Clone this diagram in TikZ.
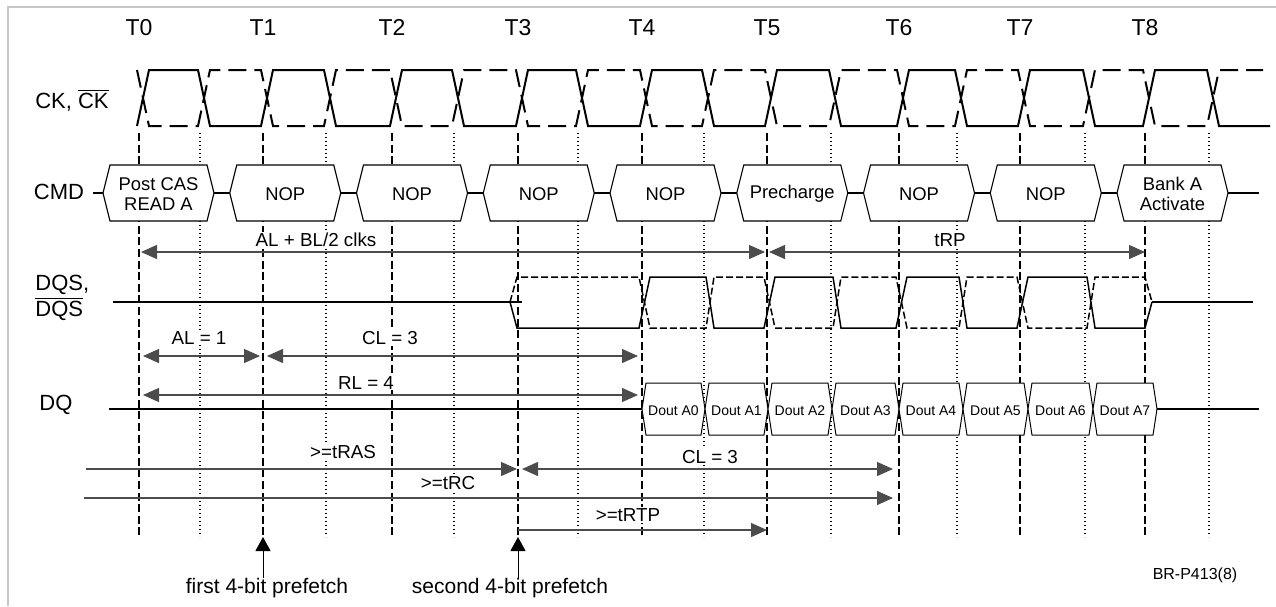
\documentclass[tikz,border=0pt]{standalone}
\usepackage{fontspec}
\setmainfont{Liberation Sans}
\usetikzlibrary{arrows.meta}

\begin{document}
\begin{tikzpicture}[x=0.5pt, y=-0.5pt,
    clk/.style={line width=1pt},
    clkbar/.style={clk, dash pattern=on 9pt off 4pt},
    tline/.style={line width=0.65pt, dash pattern=on 4pt off 1.8pt},
    hline/.style={line width=0.65pt, dash pattern=on 0.6pt off 1.4pt},
    strobe/.style={line width=0.75pt},
    strobebar/.style={strobe, dash pattern=on 3.5pt off 1.5pt},
    cmdbox/.style={draw, fill=white, line width=0.55pt},
    cmdtext/.style={font=\fontsize{9.2}{10}\selectfont, align=center},
    doutbox/.style={draw, fill=white, line width=0.5pt},
    douttext/.style={font=\fontsize{7}{8}\selectfont},
    dim/.style={draw=black!70, line width=0.65pt, >={Triangle[length=8pt,width=7pt]}},
    lbl/.style={fill=white, inner sep=0.5pt, font=\fontsize{9.4}{10}\selectfont},
    sig/.style={font=\fontsize{11}{13}\selectfont}]

\useasboundingbox (0,0) rectangle (1276,606);
\draw[black!22, line width=0.75pt] (8,606) -- (8,7) -- (1276,7);

% clock edges and half-cycle marks
\foreach \i/\x in {0/139,1/263,2/392,3/518,4/642,5/767,6/899,7/1020,8/1145}{
  \node[font=\fontsize{11.5}{13}\selectfont, anchor=base] (T\i) at (\x,35) {T\i};
  \draw[tline] (\x,133) -- (\x,537);
}
\foreach \x in {200,326,454,578,704,831,957,1085,1209}
  \draw[hline] (\x,133) -- (\x,537);

% CK and CK#
\draw[clk] (137,126) \foreach \a/\b in {139/200,263/326,392/454,518/578,642/704,767/831,899/957,1020/1085,1145/1209}{
    -- ({\a-2},126) -- ({\a+10},70) -- ({\b-2},70) -- ({\b+10},126)} -- (1270,126);
\draw[clkbar] (137,70) \foreach \a/\b in {139/200,263/326,392/454,518/578,642/704,767/831,899/957,1020/1085,1145/1209}{
    -- ({\a-2},70) -- ({\a+10},126) -- ({\b-2},126) -- ({\b+10},70)} -- (1263,70);

% signal names
\node[sig] (cklbl) at (72,100) {CK, $\overline{\mbox{CK}}$};
\node[sig] (cmdlbl) at (59,192) {CMD};
\node[sig, anchor=west, align=left, inner sep=0pt] (dqslbl) at (35,298) {DQS,\\$\overline{\mbox{DQS}}$};
\node[sig] (dqlbl) at (56,405) {DQ};

% buses
\draw[line width=0.55pt] (93,193) -- (1259,193);
\draw[line width=0.55pt] (109,409) -- (1259,409);
\draw[line width=0.6pt] (113,302) -- (522,302);
\draw[line width=0.6pt] (1152,302) -- (1253,302);

% commands
\foreach \i/\txt in {0/{Post CAS\\READ A},1/NOP,2/NOP,3/NOP,4/NOP,5/Precharge,6/NOP,7/NOP,8/{Bank A\\Activate}}{
  \pgfmathsetmacro\l{103+126.75*\i}
  \filldraw[cmdbox] (\l,193) -- ++(7,-28) -- ++(97,0) -- ++(7,28) -- ++(-7,28) -- ++(-97,0) -- cycle;
  \node[cmdtext] (cmd\i) at ({\l+55.5},194) {\txt};
}

% DQS and DQS#
\draw[strobe] (510,302) -- (517,328) \foreach \a/\b in {642/704,767/831,899/957,1020/1085}{
    -- ({\a-3},328) -- ({\a+8},277) -- ({\b+2},277) -- ({\b+10},328)} -- (1145,328) -- (1152,302);
\draw[strobebar] (510,302) -- (517,277) \foreach \a/\b in {642/704,767/831,899/957,1020/1085}{
    -- ({\a-3},277) -- ({\a+8},328) -- ({\b+2},328) -- ({\b+10},277)} -- (1145,277) -- (1152,302);

% data out
\foreach \a/\b/\k in {642/705/0,705/768/1,768/832/2,832/899/3,899/963/4,963/1028/5,1028/1093/6,1093/1157/7}{
  \filldraw[doutbox] (\a,409) -- ({\a+4},383) -- ({\b-4},383) -- (\b,409) -- ({\b-4},435) -- ({\a+4},435) -- cycle;
  \node[douttext] (dout\k) at ({(\a+\b)/2},411) {Dout A\k};
}

% timing
\draw[dim,<->,shorten <=1pt,shorten >=1pt] (T0 |- 0,252) -- (T5 |- 0,252);
\node[lbl] (albl) at (316,240) {AL + BL/2 clks};
\draw[dim,<->,shorten <=1pt] (T5 |- 0,252) -- (T8 |- 0,252);
\node[lbl] (trp) at (950,240) {tRP};
\draw[dim,<->,shorten <=2pt,shorten >=1.5pt] (T0 |- 0,356) -- (T1 |- 0,356);
\node[lbl] (al) at (199,338) {AL = 1};
\draw[dim,<->,shorten <=2pt,shorten >=2pt] (T1 |- 0,356) -- (T4 |- 0,356);
\node[lbl] (cla) at (390,338) {CL = 3};
\draw[dim,<->,shorten <=2pt,shorten >=2pt] (T0 |- 0,395) -- (T4 |- 0,395);
\node[lbl] (rl) at (366,383) {RL = 4};
\coordinate (rasstart) at (86,469);
\draw[dim,->,shorten >=0.5pt] (rasstart) -- (T3 |- rasstart);
\node[lbl] (tras) at (343,452) {>=tRAS};
\draw[dim,<->,shorten <=2pt,shorten >=3pt] (T3 |- 0,469) -- (T6 |- 0,469);
\node[lbl] (clb) at (710,457) {CL = 3};
\coordinate (rcstart) at (84,498);
\draw[dim,->,shorten >=3pt] (rcstart) -- (T6 |- rcstart);
\node[lbl] (trc) at (448,483) {>=tRC};
\draw[dim,->] (T3 |- 0,530) -- (T5 |- 0,530);
\node[lbl] (trtp) at (628,515) {>=tRTP};

% prefetch marks
\node[font=\fontsize{10.5}{12}\selectfont, inner sep=0pt] (pf1) at (267,588) {first 4-bit prefetch};
\node[font=\fontsize{10.5}{12}\selectfont, inner sep=0pt] (pf2) at (510,588) {second 4-bit prefetch};
\draw[line width=0.5pt, -{Triangle[length=7pt,width=7.5pt]}] (pf1.north -| T1) -- (T1 |- 0,537);
\draw[line width=0.5pt, -{Triangle[length=7pt,width=7.5pt]}] (pf2.north -| T3) -- (T3 |- 0,537);

\node[font=\fontsize{8}{9}\selectfont] (figref) at (1195,575) {BR-P413(8)};
\end{tikzpicture}
\end{document}
